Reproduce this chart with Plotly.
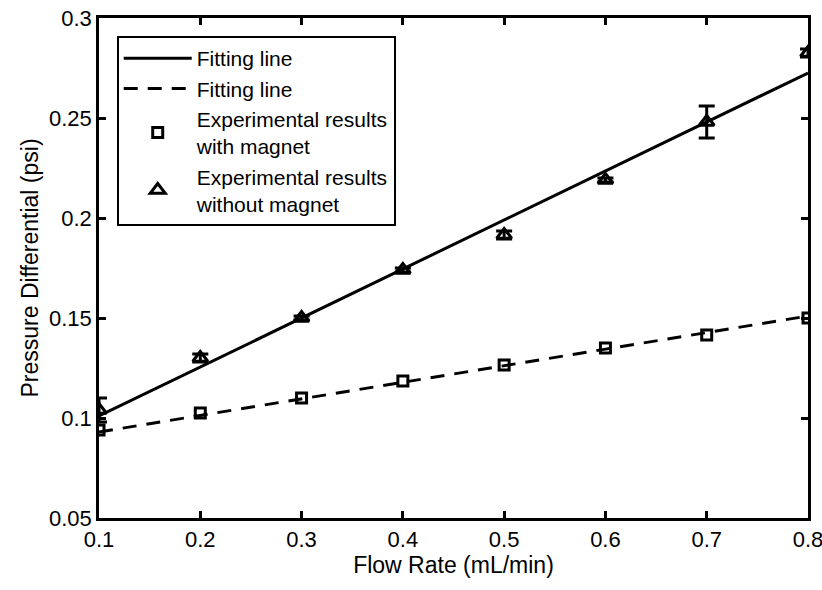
import plotly.graph_objects as go

flow = [0.1, 0.2, 0.3, 0.4, 0.5, 0.6, 0.7, 0.8]
with_magnet = [0.094, 0.1025, 0.110, 0.1185, 0.1265, 0.135, 0.1415, 0.150]
without_magnet = [0.104, 0.130, 0.150, 0.174, 0.1915, 0.219, 0.248, 0.2825]
without_err = [0.006, 0.002, 0.001, 0.001, 0.002, 0.001, 0.008, 0.002]
fit_x = [0.1, 0.8]
fit_without = [0.101, 0.2725]
fit_with = [0.093, 0.151]

FONT = "Liberation Sans, Arial, sans-serif"

fig = go.Figure()
fig.add_trace(go.Scatter(x=fit_x, y=fit_without, mode="lines",
                         line=dict(color="black", width=3),
                         name="Fitting line"))
fig.add_trace(go.Scatter(x=fit_x, y=fit_with, mode="lines",
                         line=dict(color="black", width=3, dash="14px,10px"),
                         name="Fitting line"))
fig.add_trace(go.Scatter(x=flow, y=with_magnet, mode="markers",
                         marker=dict(symbol="square-open", size=10, color="black",
                                     line=dict(width=3, color="black")),
                         name="Experimental results<br>with magnet"))
fig.add_trace(go.Scatter(x=flow, y=without_magnet, mode="markers",
                         marker=dict(symbol="triangle-up-open", size=13, color="black",
                                     line=dict(width=3, color="black")),
                         error_y=dict(type="data", array=without_err, visible=True,
                                      color="black", thickness=3, width=8),
                         name="Experimental results<br>without magnet"))

axis_common = dict(showline=True, linecolor="black", linewidth=2.5, mirror="ticks",
                   ticks="inside", ticklen=7, tickwidth=2.5, tickcolor="black",
                   showgrid=False, zeroline=False, automargin=False,
                   ticklabeloverflow="allow",
                   tickfont=dict(family=FONT, size=22, color="black"))

fig.update_layout(
    width=822, height=590,
    margin=dict(l=99, r=14, t=18, b=72),
    paper_bgcolor="white", plot_bgcolor="white",
    font=dict(family=FONT, size=22, color="black"),
    xaxis=dict(range=[0.1, 0.8], dtick=0.1, tick0=0.1,
               title=dict(text="Flow Rate (mL/min)", font=dict(family=FONT, size=23), standoff=6),
               **axis_common),
    yaxis=dict(range=[0.05, 0.3], dtick=0.05, tick0=0.05,
               title=dict(text="Pressure Differential (psi)", font=dict(family=FONT, size=23), standoff=4),
               **axis_common),
    legend=dict(x=0.025, y=0.964, xanchor="left", yanchor="top",
                bgcolor="white", bordercolor="black", borderwidth=2,
                font=dict(family=FONT, size=21, color="black"),
                tracegroupgap=0, itemwidth=68),
    showlegend=True,
)

fig.write_html("out.html")
